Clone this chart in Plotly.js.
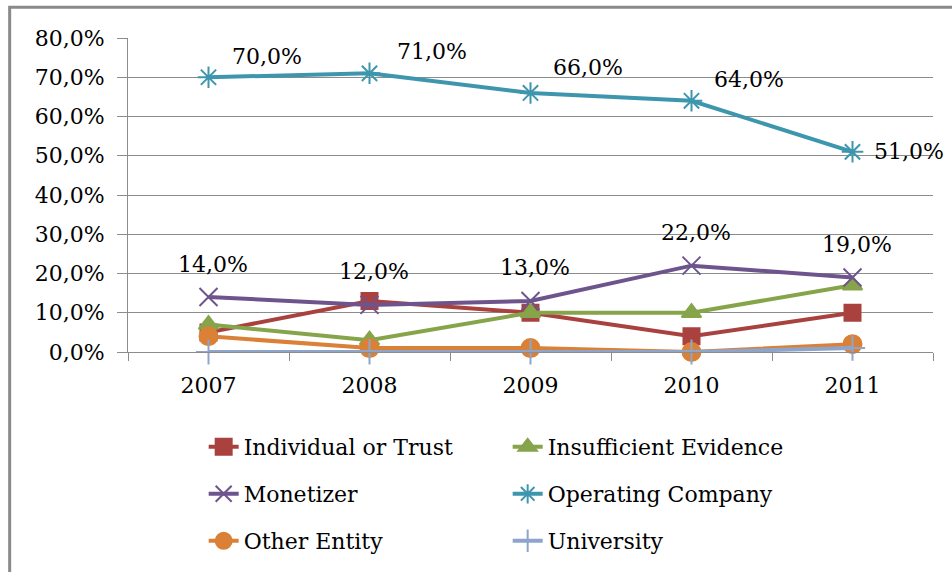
<!DOCTYPE html>
<html>
<head>
<meta charset="utf-8">
<script src="https://cdn.plot.ly/plotly-3.0.1.min.js"></script>
<style>
  html, body { margin: 0; padding: 0; background: #fff; }
  #chart { width: 952px; height: 572px; }
</style>
</head>
<body>
<div id="chart"></div>
<script>
/* data */
const years = ['2007', '2008', '2009', '2010', '2011'];

const individualOrTrust    = [0.05, 0.13, 0.10, 0.04, 0.10];
const insufficientEvidence = [0.07, 0.03, 0.10, 0.10, 0.17];
const monetizer            = [0.14, 0.12, 0.13, 0.22, 0.19];
const operatingCompany     = [0.70, 0.71, 0.66, 0.64, 0.51];
const otherEntity          = [0.04, 0.01, 0.01, 0.00, 0.02];
const university           = [0.00, 0.00, 0.00, 0.00, 0.01];

const yTicks = [0, 0.1, 0.2, 0.3, 0.4, 0.5, 0.6, 0.7, 0.8];

const FONT = '"DejaVu Serif", "Liberation Serif", serif';
const GRID = '#8c8c8c';

function series(name, y, color, symbol, size, legend) {
  return {
    x: years, y, name, legend, type: 'scatter', mode: 'lines+markers',
    line: { color, width: 4 },
    marker: { symbol, size, color, line: { color, width: 2 } },
    cliponaxis: false
  };
}

const traces = [
  series('Individual or Trust', individualOrTrust, '#a9423f', 'square', 16, 'legend'),
  series('Insufficient Evidence', insufficientEvidence, '#86a44a', 'triangle-up', 17, 'legend'),
  series('Monetizer', monetizer, '#6e548d', 'x-thin-open', 18, 'legend2'),
  series('Operating Company', operatingCompany, '#3d96ae', 'asterisk-open', 18, 'legend2'),
  series('Other Entity', otherEntity, '#da8137', 'circle', 18, 'legend3'),
  series('University', university, '#8ea5cb', 'cross-thin-open', 18, 'legend3')
];

// data labels: Monetizer above the points, Operating Company up-right (last one right)
const fmt = v => (v * 100).toFixed(1).replace('.', ',') + '%';
const annotations = [];
monetizer.forEach((v, i) => annotations.push({
  x: i, y: v, text: fmt(v), showarrow: false, xshift: 4, yshift: 33
}));
const opShift = [[58, 21], [62, 22], [57, 25], [57, 21], [56, 0]];
operatingCompany.forEach((v, i) => annotations.push({
  x: i, y: v, text: fmt(v), showarrow: false,
  xshift: opShift[i][0], yshift: opShift[i][1]
}));

function legendRow(yPx) {
  return {
    orientation: 'h', x: 0.094, xanchor: 'left',
    y: (353 - yPx) / 315, yanchor: 'middle',
    entrywidth: 259, entrywidthmode: 'pixels',
    font: { family: FONT, size: 22 }, bgcolor: 'rgba(0,0,0,0)'
  };
}

const layout = {
  width: 952, height: 572,
  margin: { l: 128, r: 19, t: 38, b: 219 },
  paper_bgcolor: '#fff', plot_bgcolor: '#fff',
  separators: ', ',
  font: { family: FONT, size: 22, color: '#000' },
  showlegend: true,
  xaxis: {
    type: 'category', tickson: 'boundaries', ticks: 'outside', ticklen: 8,
    tickcolor: GRID, showline: true, linecolor: GRID, linewidth: 1,
    showgrid: false, zeroline: false, fixedrange: true,
    range: [-0.5, 4.5], tickangle: 0, ticklabelstandoff: 14,
    tickfont: { family: FONT, size: 22 }
  },
  yaxis: {
    range: [0, 0.8], tickvals: yTicks, tickformat: '.1%',
    ticks: 'outside', ticklen: 10, tickcolor: GRID,
    showline: true, linecolor: GRID, linewidth: 1, ticklabelstandoff: 8,
    showgrid: true, gridcolor: GRID, gridwidth: 1, zeroline: false,
    tickfont: { family: FONT, size: 22 }
  },
  legend: legendRow(447),
  legend2: legendRow(494),
  legend3: legendRow(541),
  annotations,
  shapes: [{
    type: 'rect', xref: 'paper', yref: 'paper',
    x0: -0.147, x1: 1.2, y0: -0.9, y1: 1.098,
    line: { color: '#8a8a8a', width: 3 }, fillcolor: 'rgba(0,0,0,0)', layer: 'below'
  }]
};

Plotly.newPlot('chart', traces, layout, { displayModeBar: false, staticPlot: true });
</script>
</body>
</html>
